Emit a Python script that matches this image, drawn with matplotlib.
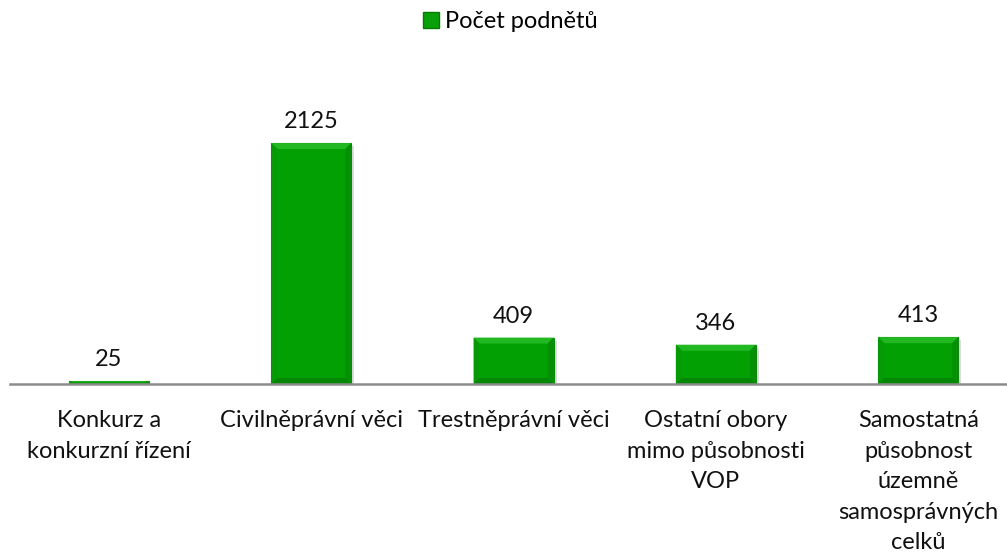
import matplotlib
matplotlib.use("Agg")
import matplotlib.pyplot as plt
from matplotlib.lines import Line2D
from matplotlib.patches import Polygon

categories = ["Konkurz a\nkonkurzní řízení", "Civilněprávní věci", "Trestněprávní věci",
              "Ostatní obory\nmimo působnosti\nVOP",
              "Samostatná\npůsobnost\núzemně\nsamosprávných\ncelků"]
values = [25, 2125, 409, 346, 413]
series_name = "Počet podnětů"

W, H = 1007, 559
fig = plt.figure(figsize=(W/100, H/100), dpi=100)
plt.rcParams['font.family'] = ['Lato', 'DejaVu Sans']
FS = 17

ax_left, ax_right = 10, 1007
ax_bottom, ax_top = 384, 100.5
ax = fig.add_axes([ax_left/W, 1-ax_bottom/H, (ax_right-ax_left)/W, (ax_bottom-ax_top)/H])

step = 202.3
x0 = 109
ymax = 2500
xs = list(range(len(values)))
ax.set_xlim((ax_left-x0)/step, (ax_right-x0)/step)
ax.set_ylim(0, ymax)

px_y = ymax / (ax_bottom - ax_top)
px_x = 1 / step

bars = ax.bar(xs, values, width=80/step, color='#03a003', edgecolor='#0a8a0a', linewidth=0.8, zorder=3)

# bevel effect and shadow derived from bar geometry
for b in bars:
    x, y, w, h = b.get_x(), b.get_y(), b.get_width(), b.get_height()
    bx = 6 * px_x
    by = min(6 * px_y, h / 2)
    tl, tr = (x, y + h), (x + w, y + h)
    bl, br = (x, y), (x + w, y)
    itl, itr = (x + bx, y + h - by), (x + w - bx, y + h - by)
    ibl, ibr = (x + bx, y + by), (x + w - bx, y + by)
    ax.add_patch(Polygon([tl, tr, itr, itl], closed=True, color='#22b822', lw=0, zorder=4))
    ax.add_patch(Polygon([tl, itl, ibl, bl], closed=True, color='#079a07', lw=0, zorder=4))
    ax.add_patch(Polygon([tr, br, ibr, itr], closed=True, color='#069006', lw=0, zorder=4))
    ax.add_patch(Polygon([bl, ibl, ibr, br], closed=True, color='#058705', lw=0, zorder=4))
    # soft shadow
    ax.add_patch(Polygon([(x + 2*px_x, y), (x + w + 3*px_x, y), (x + w + 3*px_x, y + h - 3*px_y),
                          (x + w, y + h - 3*px_y), (x + w, y)], closed=True,
                         color='#d5d5d5', lw=0, zorder=2, alpha=0.8))

for x, v in zip(xs, values):
    ax.annotate(str(v), (x, v), xytext=(0, 8), textcoords='offset points',
                ha='center', va='bottom', fontsize=FS, color='#111111')

for s in ['top', 'right', 'left']:
    ax.spines[s].set_visible(False)
ax.spines['bottom'].set_color('#8c8c8c')
ax.spines['bottom'].set_linewidth(1.8)
ax.spines['bottom'].set_zorder(5)
ax.set_yticks([])
ax.set_xticks(xs)
ax.set_xticklabels(categories, fontsize=FS, color='#111111', linespacing=1.56)
ax.tick_params(axis='x', length=0, pad=19)

handle = Line2D([0], [0], marker='s', color='none', markerfacecolor='#08a008',
                markeredgecolor='#067a06', markersize=11)
fig.legend([handle], [series_name], loc='center', bbox_to_anchor=(508/W, 1-22/H),
           frameon=False, fontsize=FS, handletextpad=0.1, handlelength=1.0)

fig.savefig("out.png", dpi=100)
